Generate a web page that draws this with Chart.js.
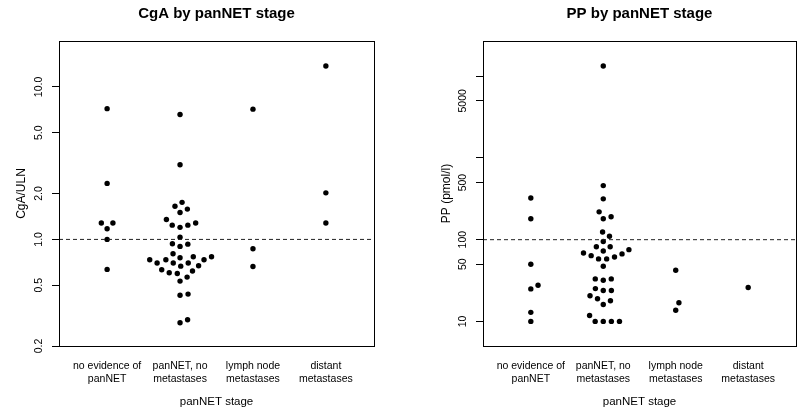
<!DOCTYPE html>
<html>
<head>
<meta charset="utf-8">
<script src="https://cdn.jsdelivr.net/npm/chart.js@4.4.0/dist/chart.umd.min.js"></script>
<style>
  html, body { margin: 0; padding: 0; background: #fff; }
  .wrap { display: flex; width: 800px; height: 410px; }
  .panel { width: 400px; height: 410px; }
</style>
</head>
<body>
<div class="wrap">
  <div class="panel"><canvas id="cgaChart" width="400" height="410"></canvas></div>
  <div class="panel"><canvas id="ppChart" width="400" height="410"></canvas></div>
</div>
<script>
const stages = [['no evidence of', 'panNET'], ['panNET, no', 'metastases'], ['lymph node', 'metastases'], ['distant', 'metastases']];

// CgA relative to upper limit of normal, one array per stage
const cgaNoEvidence = [7.2, 2.33, 1.28, 1.28, 1.175, 1.0, 0.636];
const cgaNoMetastases = [6.6, 3.09, 1.75, 1.65, 1.58, 1.5, 1.35, 1.28, 1.24, 1.24, 1.2, 1.035, 0.937, 0.931, 0.9,
  0.806, 0.77, 0.77, 0.758, 0.736, 0.736, 0.736, 0.7, 0.7, 0.7, 0.672, 0.668, 0.633, 0.62, 0.605, 0.598, 0.566,
  0.533, 0.438, 0.43, 0.297, 0.284];
const cgaLymphNode = [7.15, 0.869, 0.665];
const cgaDistant = [13.7, 2.02, 1.28];

// PP in pmol/l
const ppNoEvidence = [323, 180, 50, 27.7, 25, 12.9, 10];
const ppNoMetastases = [13360, 459, 316, 219, 191, 180, 124, 110, 95, 82, 82, 75.5, 72.8, 68.8, 67, 63.8, 61.5,
  58.2, 58.2, 47.3, 33.1, 33.1, 31.9, 25.2, 23.9, 23.9, 20.6, 18.9, 17.9, 16.1, 11.8, 10, 10, 10, 10];
const ppLymphNode = [42.3, 16.9, 13.7];
const ppDistant = [26];

const cgaTicks = [0.2, 0.5, 1, 2, 5, 10];
const cgaTickLabels = ['0.2', '0.5', '1.0', '2.0', '5.0', '10.0'];
const ppTicks = [10, 50, 100, 500, 1000, 5000, 10000];
const ppTickLabels = ['10', '50', '100', '500', '', '5000', ''];
const cgaRef = 1;
const ppRef = 100;

const X_MIN = 0.34, X_MAX = 4.66;
const DOT_GAP = 8.1;

Chart.defaults.color = '#000';
Chart.defaults.font.family = "'Liberation Sans', Arial, sans-serif";

// beeswarm "swarm" placement (ascending priority), in pixel space
function swarmOffsets(ys, d) {
  const order = ys.map((y, i) => i).sort((a, b) => ys[b] - ys[a] || a - b);
  const placed = [];
  const off = new Array(ys.length).fill(0);
  order.forEach((i) => {
    const v = ys[i] / d;
    const near = placed.filter((p) => Math.abs(v - p.v) < 1);
    let best = 0;
    if (near.length) {
      const cands = [0];
      near.forEach((p) => cands.push(p.o + Math.sqrt(1 - (v - p.v) ** 2)));
      near.forEach((p) => cands.push(p.o - Math.sqrt(1 - (v - p.v) ** 2)));
      let bestAbs = Infinity;
      cands.forEach((c) => {
        const bad = near.some((p) => (v - p.v) ** 2 + (c - p.o) ** 2 < 0.999);
        if (!bad && Math.abs(c) < bestAbs) { bestAbs = Math.abs(c); best = c; }
      });
    }
    placed.push({ v, o: best });
    off[i] = best * d;
  });
  return off;
}

const boxPlugin = {
  id: 'box',
  afterDraw(chart) {
    const { ctx, chartArea: a } = chart;
    ctx.save();
    ctx.strokeStyle = '#000';
    ctx.lineWidth = 1;
    ctx.strokeRect(a.left + 0.5, a.top + 0.5, a.right - a.left, a.bottom - a.top);
    ctx.restore();
  }
};

function makePanel(id, cfg) {
  const datasets = [{
    type: 'line',
    data: [{ x: X_MIN, y: cfg.ref }, { x: X_MAX, y: cfg.ref }],
    borderColor: '#222',
    borderWidth: 1,
    borderDash: [4, 3],
    pointRadius: 0
  }];
  cfg.groups.forEach((vals, gi) => {
    datasets.push({
      type: 'scatter',
      data: vals.map((v) => ({ x: gi + 1, y: v })),
      backgroundColor: '#000',
      borderColor: '#000',
      pointRadius: 2.7,
      borderWidth: 0
    });
  });

  const chart = new Chart(document.getElementById(id), {
    type: 'scatter',
    data: { datasets },
    plugins: [boxPlugin],
    options: {
      responsive: false,
      animation: false,
      events: [],
      layout: { padding: { left: 0, right: cfg.padRight, top: 0, bottom: 0 } },
      plugins: {
        legend: { display: false },
        tooltip: { enabled: false }
      },
      scales: {
        // top axis only carries the panel title, centred over the plot box
        top: {
          type: 'linear',
          position: 'top',
          min: X_MIN,
          max: X_MAX,
          afterFit: (s) => { s.height = 41; },
          grid: { display: false, drawTicks: false },
          border: { display: false },
          ticks: { display: false },
          title: { display: true, text: cfg.title, font: { size: 15, weight: 'bold' }, padding: { top: 5, bottom: 0 } }
        },
        x: {
          type: 'linear',
          min: X_MIN,
          max: X_MAX,
          afterBuildTicks: (s) => { s.ticks = stages.map((c, i) => ({ value: i + 1 })); },
          afterFit: (s) => { s.height = 64; },
          grid: { display: false, drawTicks: false },
          border: { display: false },
          ticks: {
            autoSkip: false,
            maxRotation: 0,
            padding: 13.2,
            font: { size: 10.5, lineHeight: 1.25 },
            callback: (v) => stages[Math.round(v) - 1]
          },
          title: { display: true, text: 'panNET stage', font: { size: 11.5 }, padding: { top: 0, bottom: 1 } }
        },
        y: {
          type: 'logarithmic',
          min: cfg.yMin,
          max: cfg.yMax,
          afterBuildTicks: (s) => { s.ticks = cfg.ticks.map((v) => ({ value: v })); },
          afterFit: (s) => { s.width = cfg.axisWidth; },
          grid: { drawOnChartArea: false, drawTicks: true, tickLength: 7, color: '#000' },
          border: { display: false },
          ticks: {
            autoSkip: false,
            minRotation: 90,
            maxRotation: 90,
            crossAlign: 'center',
            padding: cfg.tickPad,
            font: { size: 10.5 },
            callback: (v, i) => cfg.tickLabels[i]
          },
          title: { display: true, text: cfg.yTitle, font: { size: 12 }, padding: { top: cfg.titlePad, bottom: 0 } }
        }
      }
    }
  });

  const xs = chart.scales.x, ys = chart.scales.y;
  const pxPerUnit = xs.getPixelForValue(2) - xs.getPixelForValue(1);
  cfg.groups.forEach((vals, gi) => {
    const offs = swarmOffsets(vals.map((v) => ys.getPixelForValue(v)), DOT_GAP);
    chart.data.datasets[gi + 1].data = vals.map((v, k) => ({ x: gi + 1 + offs[k] / pxPerUnit, y: v }));
  });
  chart.update('none');
}

makePanel('cgaChart', {
  title: 'CgA by panNET stage',
  yTitle: 'CgA/ULN',
  groups: [cgaNoEvidence, cgaNoMetastases, cgaLymphNode, cgaDistant],
  ref: cgaRef,
  yMin: 0.2, yMax: 20,
  ticks: cgaTicks, tickLabels: cgaTickLabels,
  axisWidth: 59, padRight: 26, tickPad: 2.8, titlePad: 14.8
});

makePanel('ppChart', {
  title: 'PP by panNET stage',
  yTitle: 'PP (pmol/l)',
  groups: [ppNoEvidence, ppNoMetastases, ppLymphNode, ppDistant],
  ref: ppRef,
  yMin: 5, yMax: 27000,
  ticks: ppTicks, tickLabels: ppTickLabels,
  axisWidth: 83, padRight: 2, tickPad: 1.5, titlePad: 39.8
});
</script>
</body>
</html>
